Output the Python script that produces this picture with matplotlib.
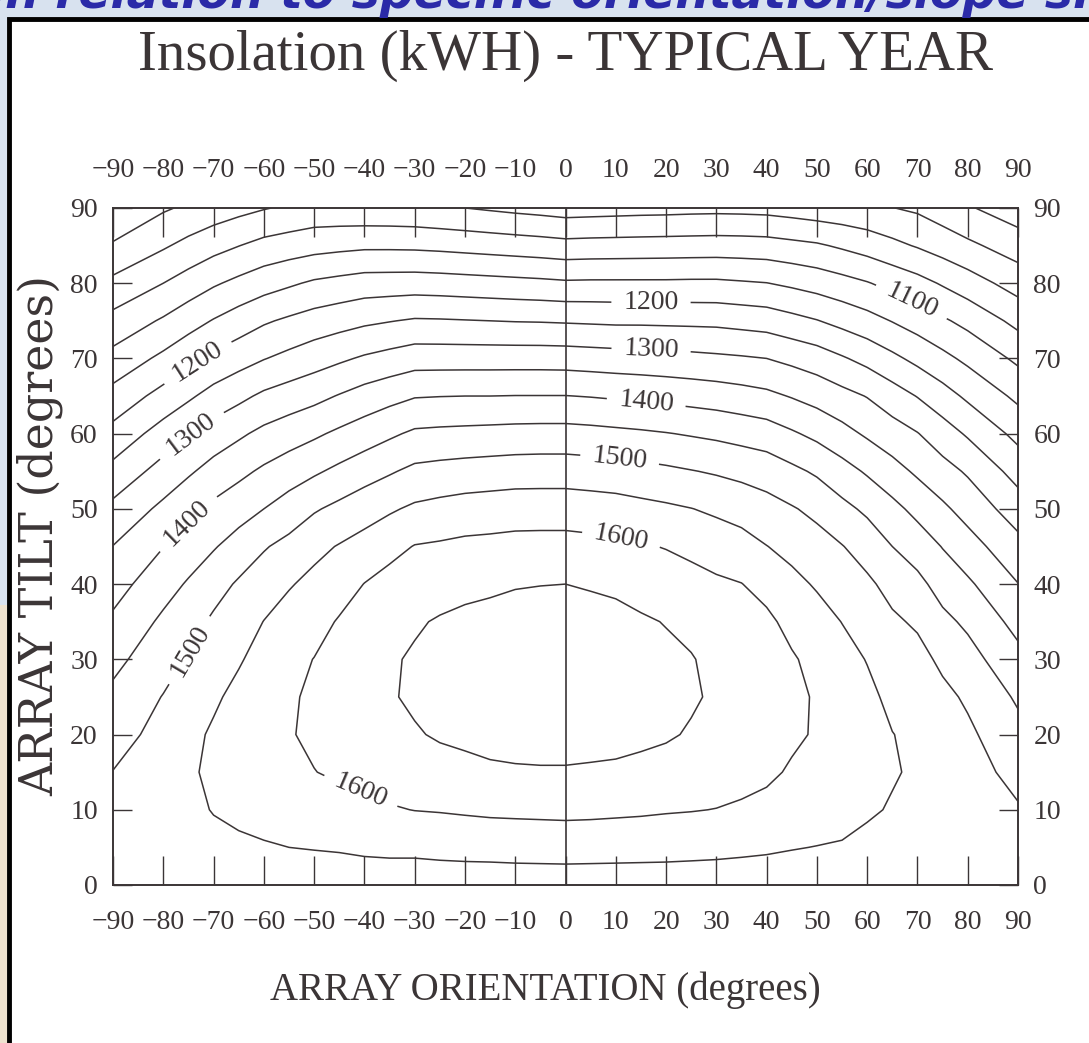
import numpy as np
import matplotlib.pyplot as plt
from matplotlib.patches import Rectangle

plt.rcParams['font.family'] = 'serif'
plt.rcParams['font.serif'] = ['Liberation Serif', 'DejaVu Serif']

# array orientation (deg, 0 = due south) and tilt (deg)
orientation = [-90, -80, -75, -70, -65, -60, -55, -50, -45, -40, -35, -30, -25, -20,
               -15, -10, -5, 0, 5, 10, 15, 20, 25, 30, 35, 40, 45, 50, 55, 60, 65,
               70, 75, 80, 90]
tilt = list(range(0, 91, 5))

# yearly insolation in kWh, one column per orientation, tilt 0..90 in 5 deg steps
kwh_by_orientation = [
    [1525, 1517, 1509, 1501, 1482, 1461, 1437, 1409, 1380, 1351, 1313, 1265, 1216, 1167, 1116, 1066, 1012, 956, 901],
    [1525, 1529, 1530, 1525, 1515, 1502, 1480, 1459, 1431, 1399, 1361, 1319, 1271, 1217, 1161, 1106, 1050, 994, 944],
    [1525, 1533, 1540, 1542, 1536, 1524, 1504, 1481, 1455, 1424, 1388, 1343, 1297, 1242, 1186, 1130, 1072, 1014, 958],
    [1525, 1538, 1552, 1561, 1557, 1542, 1525, 1508, 1481, 1446, 1411, 1368, 1322, 1268, 1211, 1153, 1094, 1033, 972],
    [1525, 1542, 1560, 1572, 1573, 1564, 1545, 1525, 1506, 1470, 1430, 1388, 1342, 1288, 1230, 1174, 1112, 1049, 985],
    [1525, 1546, 1567, 1580, 1584, 1580, 1569, 1551, 1525, 1496, 1450, 1408, 1362, 1309, 1248, 1194, 1129, 1065, 997],
    [1525, 1550, 1575, 1590, 1597, 1594, 1586, 1570, 1546, 1514, 1472, 1426, 1377, 1323, 1263, 1208, 1143, 1074, 1007],
    [1525, 1552, 1575, 1599, 1608, 1608, 1601, 1583, 1563, 1537, 1495, 1443, 1392, 1336, 1278, 1221, 1157, 1082, 1016],
    [1525, 1554, 1582, 1607, 1620, 1624, 1619, 1604, 1579, 1553, 1512, 1461, 1409, 1353, 1292, 1231, 1165, 1087, 1015],
    [1525, 1558, 1588, 1614, 1629, 1636, 1633, 1622, 1601, 1568, 1529, 1479, 1425, 1370, 1306, 1241, 1173, 1091, 1013],
    [1525, 1560, 1596, 1622, 1639, 1646, 1645, 1635, 1617, 1585, 1544, 1495, 1442, 1384, 1317, 1248, 1174, 1091, 1012],
    [1525, 1560, 1601, 1624, 1646, 1657, 1655, 1645, 1623, 1602, 1558, 1511, 1458, 1397, 1328, 1255, 1175, 1090, 1010],
    [1525, 1563, 1603, 1632, 1655, 1664, 1663, 1654, 1631, 1606, 1565, 1516, 1461, 1399, 1328, 1254, 1173, 1087, 1005],
    [1525, 1565, 1606, 1637, 1660, 1670, 1670, 1660, 1638, 1611, 1571, 1520, 1463, 1400, 1328, 1252, 1170, 1083, 1000],
    [1525, 1566, 1609, 1643, 1664, 1674, 1674, 1664, 1642, 1613, 1574, 1523, 1465, 1400, 1328, 1250, 1167, 1079, 994],
    [1525, 1568, 1610, 1645, 1667, 1678, 1678, 1668, 1647, 1616, 1577, 1526, 1467, 1401, 1328, 1248, 1164, 1075, 988],
    [1525, 1569, 1611, 1646, 1668, 1679, 1679, 1669, 1649, 1617, 1577, 1527, 1468, 1401, 1328, 1247, 1161, 1071, 983],
    [1525, 1570, 1612, 1646, 1668, 1679, 1680, 1670, 1650, 1617, 1577, 1527, 1468, 1401, 1327, 1245, 1157, 1066, 977],
    [1525, 1569, 1611, 1644, 1667, 1677, 1678, 1667, 1646, 1614, 1574, 1524, 1465, 1398, 1324, 1243, 1158, 1068, 979],
    [1525, 1568, 1609, 1642, 1665, 1675, 1675, 1664, 1641, 1611, 1571, 1520, 1461, 1394, 1321, 1241, 1158, 1069, 981],
    [1525, 1567, 1607, 1638, 1660, 1669, 1668, 1656, 1631, 1604, 1564, 1515, 1457, 1390, 1319, 1241, 1158, 1070, 983],
    [1525, 1566, 1604, 1633, 1655, 1663, 1660, 1648, 1623, 1598, 1558, 1509, 1452, 1386, 1316, 1240, 1158, 1071, 984],
    [1525, 1564, 1602, 1626, 1646, 1655, 1652, 1641, 1619, 1587, 1551, 1502, 1446, 1381, 1313, 1239, 1159, 1072, 986],
    [1525, 1562, 1599, 1623, 1638, 1644, 1641, 1629, 1608, 1577, 1542, 1495, 1440, 1376, 1309, 1238, 1159, 1073, 987],
    [1525, 1559, 1593, 1618, 1631, 1636, 1633, 1621, 1601, 1569, 1531, 1487, 1432, 1369, 1305, 1233, 1155, 1072, 986],
    [1525, 1556, 1585, 1610, 1623, 1627, 1623, 1610, 1584, 1551, 1518, 1478, 1424, 1361, 1300, 1228, 1151, 1070, 984],
    [1525, 1552, 1573, 1594, 1609, 1612, 1605, 1586, 1563, 1536, 1504, 1461, 1406, 1347, 1288, 1215, 1141, 1063, 978],
    [1525, 1549, 1572, 1588, 1595, 1595, 1586, 1569, 1545, 1519, 1488, 1443, 1388, 1332, 1275, 1202, 1130, 1056, 971],
    [1525, 1546, 1567, 1578, 1582, 1578, 1567, 1549, 1525, 1502, 1463, 1419, 1366, 1315, 1255, 1185, 1117, 1043, 966],
    [1525, 1540, 1555, 1565, 1567, 1561, 1548, 1528, 1509, 1479, 1441, 1394, 1343, 1298, 1235, 1168, 1103, 1029, 960],
    [1525, 1537, 1547, 1553, 1551, 1539, 1523, 1508, 1484, 1450, 1414, 1368, 1322, 1273, 1211, 1148, 1085, 1012, 951],
    [1525, 1535, 1543, 1545, 1540, 1530, 1516, 1493, 1463, 1427, 1386, 1342, 1302, 1248, 1187, 1128, 1067, 996, 942],
    [1525, 1531, 1534, 1532, 1524, 1512, 1490, 1462, 1431, 1398, 1359, 1318, 1273, 1220, 1163, 1107, 1045, 978, 924],
    [1525, 1527, 1525, 1518, 1509, 1493, 1468, 1441, 1408, 1370, 1332, 1294, 1244, 1191, 1139, 1086, 1023, 960, 905],
    [1525, 1514, 1504, 1486, 1465, 1443, 1415, 1384, 1351, 1316, 1275, 1231, 1186, 1139, 1090, 1036, 979, 926, 872],
]

levels = list(range(900, 1651, 50))
labelled = [1100, 1200, 1300, 1400, 1500, 1600]
# where the level numbers sit (orientation, tilt)
label_spots = [(69, 77.8),
               (-73.8, 70.1), (17, 77.4),
               (-74.4, 59.8), (17, 70.9),
               (-75.8, 48.5), (16, 63.8),
               (-74.8, 31.2), (10.7, 56.2),
               (11, 45.9), (-41, 12)]

ink = '#3b3536'

Z = np.array(kwh_by_orientation).T

fig = plt.figure(figsize=(10.89, 10.43), dpi=100)
fig.patch.set_facecolor('#d8e2ef')
# slide background showing at the lower left
fig.add_artist(Rectangle((0, 0), 0.02, 0.42, transform=fig.transFigure,
                         facecolor='#eee2cf', edgecolor='none', zorder=-1))
# white page with a black border
fig.add_artist(Rectangle((0.0085, -0.02), 1.02, 1.0015, transform=fig.transFigure,
                         facecolor='white', edgecolor='black', lw=3.5, zorder=0))

# banner text running off the top
fig.text(0.49, 1.004, 'ls in relation to specific orientation/slope sho',
         ha='center', va='center', fontsize=34, color='#2a2aa8',
         style='italic', weight='bold', family='DejaVu Sans')

ax = fig.add_axes([0.1038, 0.1515, 0.8310, 0.6491])
ax.set_facecolor('none')

plain = [v for v in levels if v not in labelled]
ax.contour(orientation, tilt, Z, levels=plain, colors=ink, linewidths=1.1)
cs = ax.contour(orientation, tilt, Z, levels=labelled, colors=ink, linewidths=1.1)
ax.clabel(cs, manual=label_spots, fmt='%d', fontsize=20,
          inline=True, inline_spacing=12, colors=ink)

ax.axvline(0, color=ink, lw=1.2)

ax.set_xlim(-90, 90)
ax.set_ylim(0, 90)
ax.set_xticks(range(-90, 91, 10))
ax.set_yticks(range(0, 91, 10))
ax.tick_params(axis='x', direction='in', length=21, width=1, top=True, labeltop=True,
               labelsize=20, pad=18, colors=ink)
ax.tick_params(axis='y', direction='in', length=13.5, width=1, right=True, labelright=True,
               labelsize=20, pad=11, colors=ink)
for s in ax.spines.values():
    s.set_color(ink)
    s.set_linewidth(1.4)

fig.text(0.519, 0.9329, 'Insolation (kWH) - TYPICAL YEAR', ha='center', va='baseline',
         fontsize=41, color=ink)
fig.text(0.501, 0.0412, 'ARRAY ORIENTATION (degrees)', ha='center', va='baseline',
         fontsize=28, color=ink)
fig.text(0.037, 0.487, 'ARRAY TILT (degrees)', ha='center', va='center', rotation=90,
         fontsize=33, color=ink, family='DejaVu Serif')

fig.savefig('out.png', dpi=100)
